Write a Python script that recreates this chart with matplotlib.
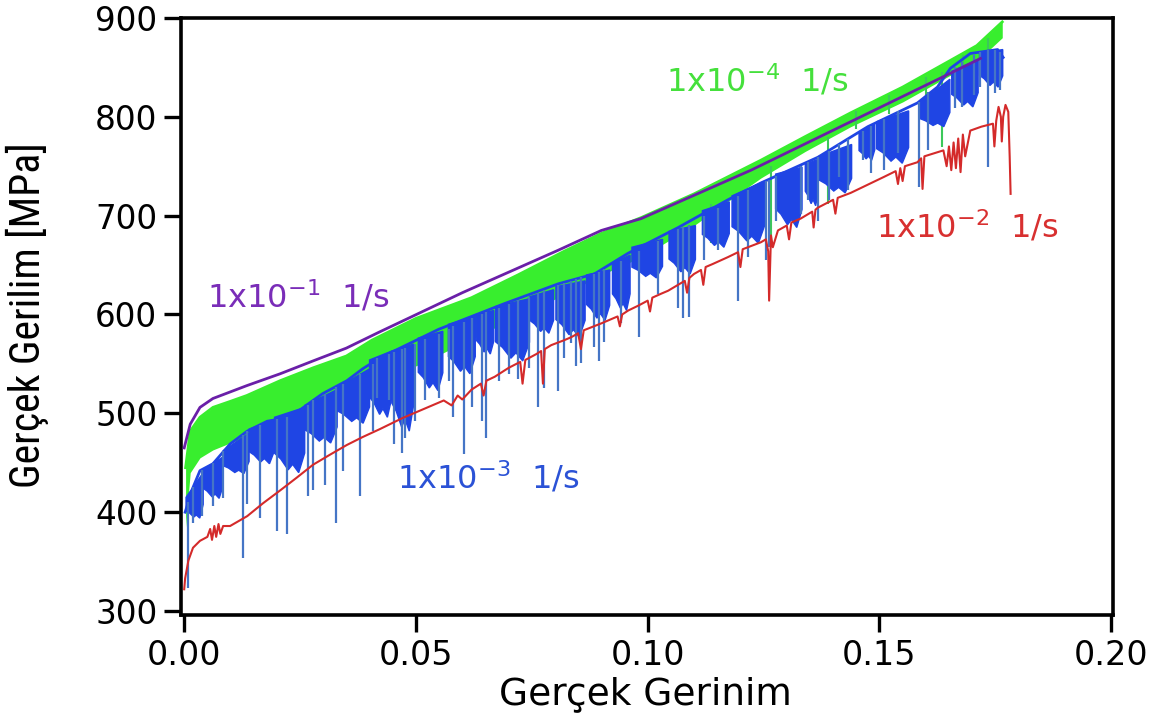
import matplotlib
matplotlib.use("Agg")
import matplotlib.pyplot as plt
from matplotlib import font_manager

# --- Data ---
# 1x10^-1 1/s  (smooth)
purple_strain = [0.0, 0.0013, 0.0034, 0.0062, 0.0135, 0.0207, 0.0278, 0.035, 0.042, 0.06,
                 0.0807, 0.0900, 0.0986, 0.1223, 0.1653, 0.1718]
purple_stress = [465, 489, 506, 515, 528, 540, 553, 566, 582, 622,
                 665, 685, 697, 746, 844, 859]

# 1x10^-4 1/s  (dense noise band: upper / lower edge)
green_strain = [0.0003, 0.0013, 0.0034, 0.0062, 0.0099, 0.0135, 0.0207, 0.0278, 0.035, 0.0405,
                0.050, 0.062, 0.072, 0.082, 0.090, 0.0986, 0.1100, 0.1244, 0.1340, 0.1438,
                0.1550, 0.1653, 0.1710, 0.1765]
green_top = [445, 482, 496, 506, 512, 518, 533, 546, 558, 574,
             596, 617, 640, 664, 682, 698, 722, 756, 780, 804,
             830, 857, 872, 896]
green_bot = [385, 440, 455, 463, 470, 476, 488, 500, 512, 525,
             548, 575, 598, 620, 640, 658, 690, 738, 765, 790,
             815, 842, 856, 880]
green_spike_strain = [0.1137, 0.1266, 0.1389, 0.1450, 0.1520, 0.1600, 0.1636, 0.1680, 0.1735]
green_spike_low = [672, 668, 712, 788, 803, 820, 769, 848, 860]
green_spike_high = [712, 750, 780, 806, 822, 840, 845, 862, 880]

# 1x10^-3 1/s  (serrated: top trace, dense serration blocks, deep drops)
blue_top_strain = [0.0002, 0.0019, 0.0034, 0.0062, 0.0099, 0.0136, 0.0179, 0.0228, 0.0278, 0.0299,
                   0.0351, 0.0385, 0.0422, 0.0549, 0.0691, 0.0807, 0.0885, 0.0958, 0.1066, 0.1173,
                   0.1244, 0.1367, 0.1475, 0.1582, 0.1625, 0.1653, 0.1696, 0.1755, 0.1767]
blue_top_stress = [400, 425, 442, 449, 469, 482, 492, 496, 513, 520,
                   533, 545, 556, 585, 611, 631, 641, 662, 688, 716,
                   733, 759, 790, 814, 830, 849, 864, 868, 860]

blue_block_x0 = [0.0004, 0.0041, 0.0084, 0.0140, 0.0195, 0.0260, 0.0330, 0.0400, 0.0448, 0.0505,
                 0.0570, 0.0630, 0.0672, 0.0746, 0.0802, 0.0868, 0.0924, 0.0966, 0.1046, 0.1118,
                 0.1182, 0.1276, 0.1340, 0.1370, 0.1456, 0.1494, 0.1586, 0.1656, 0.1716]
blue_block_x1 = [0.0041, 0.0084, 0.0140, 0.0195, 0.0260, 0.0330, 0.0400, 0.0448, 0.0495, 0.0558,
                 0.0628, 0.0668, 0.0745, 0.0797, 0.0865, 0.0918, 0.0962, 0.1032, 0.1103, 0.1176,
                 0.1253, 0.1333, 0.1368, 0.1440, 0.1490, 0.1563, 0.1652, 0.1713, 0.1766]
blue_block_top0 = [415, 443, 462, 484, 496, 508, 526, 554, 563, 576,
                   590, 600, 608, 618, 628, 640, 652, 668, 684, 705,
                   720, 742, 752, 760, 784, 795, 814, 846, 864]
blue_block_top1 = [440, 456, 480, 494, 506, 524, 545, 563, 570, 583,
                   598, 604, 616, 625, 634, 645, 660, 676, 690, 714,
                   735, 749, 757, 772, 792, 806, 838, 858, 868]
blue_block_bot = [394, 414, 439, 449, 440, 470, 490, 496, 482, 523,
                  540, 560, 553, 581, 577, 594, 604, 637, 641, 668,
                  672, 688, 710, 723, 756, 753, 790, 810, 830]

blue_spike_strain = [0.0009, 0.0019, 0.0039, 0.0062, 0.0084, 0.0127, 0.0136, 0.0164, 0.0200, 0.0222,
                     0.0267, 0.0278, 0.0304, 0.0327, 0.0342, 0.0379, 0.0407, 0.0416, 0.0441, 0.0452,
                     0.0469, 0.0476, 0.0497, 0.0519, 0.0549, 0.0571, 0.0581, 0.0603, 0.0620, 0.0642,
                     0.0652, 0.0680, 0.0700, 0.0721, 0.0745, 0.0764, 0.0777, 0.0807, 0.0820, 0.0835,
                     0.0846, 0.0857, 0.0885, 0.0896, 0.0906, 0.0943, 0.0982, 0.1023, 0.1066, 0.1076,
                     0.1089, 0.1122, 0.1152, 0.1195, 0.1216, 0.1255, 0.1262, 0.1277, 0.1330, 0.1346,
                     0.1367, 0.1391, 0.1412, 0.1432, 0.1464, 0.1481, 0.1509, 0.1539, 0.1585, 0.1604,
                     0.1664, 0.1679, 0.1703, 0.1718, 0.1735, 0.1750, 0.1761]
blue_spike_low = [323, 389, 396, 406, 414, 354, 408, 394, 381, 378,
                  416, 422, 427, 389, 442, 416, 482, 516, 513, 469,
                  460, 475, 492, 513, 516, 533, 496, 459, 506, 492,
                  475, 533, 540, 535, 546, 506, 526, 523, 556, 571,
                  548, 551, 567, 553, 572, 591, 577, 621, 607, 596,
                  597, 655, 665, 614, 658, 655, 668, 695, 702, 716,
                  695, 716, 739, 726, 756, 743, 746, 763, 729, 766,
                  809, 810, 822, 830, 749, 824, 827]
blue_spike_high = [410, 425, 443, 450, 462, 478, 482, 488, 494, 496,
                   508, 513, 520, 527, 530, 540, 550, 556, 560, 562,
                   565, 566, 570, 575, 580, 585, 588, 592, 596, 600,
                   602, 607, 611, 615, 618, 622, 625, 630, 632, 634,
                   636, 638, 641, 643, 646, 654, 664, 674, 686, 688,
                   691, 700, 708, 720, 726, 735, 736, 740, 750, 754,
                   759, 765, 772, 778, 786, 791, 798, 806, 815, 825,
                   850, 855, 862, 866, 868, 868, 866]

# 1x10^-2 1/s  (small serrations)
red_strain = [0.0000, 0.0002, 0.0009, 0.0019, 0.0034, 0.0050, 0.0056, 0.0060, 0.0065, 0.0069,
              0.0074, 0.0078, 0.0084, 0.0099, 0.0136, 0.0170, 0.0207, 0.0243, 0.0278, 0.0314,
              0.0351, 0.0385, 0.0422, 0.0470, 0.0520, 0.0560, 0.0577, 0.0590, 0.0600, 0.0620,
              0.0640, 0.0646, 0.0652, 0.0670, 0.0700, 0.0725, 0.0730, 0.0736, 0.0760, 0.0770,
              0.0774, 0.0778, 0.0792, 0.0820, 0.0835, 0.0850, 0.0856, 0.0862, 0.0900, 0.0935,
              0.0940, 0.0945, 0.0958, 0.0980, 0.1000, 0.1005, 0.1010, 0.1029, 0.1044, 0.1080,
              0.1085, 0.1090, 0.1100, 0.1115, 0.1120, 0.1125, 0.1140, 0.1173, 0.1195, 0.1200,
              0.1205, 0.1244, 0.1255, 0.1260, 0.1262, 0.1266, 0.1270, 0.1281, 0.1300, 0.1305,
              0.1310, 0.1330, 0.1355, 0.1358, 0.1362, 0.1367, 0.1400, 0.1405, 0.1410, 0.1438,
              0.1509, 0.1535, 0.1540, 0.1545, 0.1550, 0.1555, 0.1582, 0.1590, 0.1593, 0.1597,
              0.1638, 0.1645, 0.1650, 0.1655, 0.1660, 0.1665, 0.1670, 0.1675, 0.1680, 0.1685,
              0.1696, 0.1720, 0.1745, 0.1748, 0.1752, 0.1757, 0.1762, 0.1764, 0.1767, 0.1772,
              0.1778, 0.1781, 0.1783]
red_stress = [322, 333, 351, 364, 371, 375, 383, 372, 386, 375,
              388, 378, 386, 386, 396, 409, 422, 435, 448, 458,
              468, 476, 484, 495, 505, 513, 508, 518, 514, 524,
              530, 518, 533, 537, 546, 552, 530, 554, 560, 563,
              530, 565, 569, 574, 577, 581, 565, 584, 591, 598,
              588, 600, 604, 609, 614, 603, 617, 621, 624, 634,
              622, 637, 641, 645, 630, 648, 651, 658, 663, 648,
              666, 673, 676, 664, 614, 680, 668, 685, 690, 676,
              693, 697, 704, 688, 706, 708, 716, 702, 718, 723,
              739, 745, 732, 748, 735, 750, 754, 758, 727, 760,
              766, 750, 770, 746, 774, 748, 778, 744, 782, 760,
              786, 790, 793, 770, 796, 810, 800, 775, 800, 812,
              805, 760, 722]

x_ticks = [0.00, 0.05, 0.10, 0.15, 0.20]
y_ticks = [300, 400, 500, 600, 700, 800, 900]

# --- Fonts ---
def pick_font(names):
    for n in names:
        try:
            font_manager.findfont(font_manager.FontProperties(family=n), fallback_to_default=False)
            return n
        except ValueError:
            pass
    return "DejaVu Sans"

NARROW = pick_font(["Liberation Sans Narrow", "Roboto Condensed", "Liberation Sans"])
WIDE = "DejaVu Sans"

# --- Plot ---
fig = plt.figure(figsize=(11.57, 7.17), dpi=100)
ax = fig.add_axes([0.1564, 0.1423, 0.8056, 0.8327])

# green band
ax.fill_between(green_strain, green_bot, green_top, color="#38ee2e", lw=0, zorder=2)
ax.plot(green_strain, green_top, color="#38ee2e", lw=2, zorder=2)
ax.vlines(green_spike_strain, green_spike_low, green_spike_high, color="#3cc85a", lw=1.5, zorder=2)

# blue serration blocks (wide at the top, ragged at the bottom)
for x0, x1, t0, t1, b in zip(blue_block_x0, blue_block_x1, blue_block_top0,
                             blue_block_top1, blue_block_bot):
    w = x1 - x0
    xs = [x0, x1, x1, x0 + 0.8 * w, x0 + 0.6 * w, x0 + 0.45 * w, x0 + 0.2 * w, x0]
    ys = [t0, t1, b + 0.3 * (t1 - b), b, b + 0.15 * (t0 - b), b + 0.05 * (t0 - b),
          b + 0.25 * (t0 - b), t0 - 0.65 * (t0 - b)]
    ax.fill(xs, ys, color="#1f45e4", lw=1.0, zorder=3)
ax.plot(blue_top_strain, blue_top_stress, color="#1f45e4", lw=2, zorder=3)
ax.vlines(blue_spike_strain, blue_spike_low, blue_spike_high, color="#4575c6", lw=1.6, zorder=3)

# red and purple curves
ax.plot(red_strain, red_stress, color="#d42a2a", lw=1.5, zorder=4)
ax.plot(purple_strain, purple_stress, color="#6a1fa8", lw=2, zorder=5)

# curve labels
lab_kw = dict(fontsize=23, family=WIDE, zorder=6)
ax.text(0.104, 826, r"1x10$^{-4}$  1/s", color="#45e03c", **lab_kw)
ax.text(0.0049, 607, r"1x10$^{-1}$  1/s", color="#7a2db8", **lab_kw)
ax.text(0.0459, 424, r"1x10$^{-3}$  1/s", color="#2b52d6", **lab_kw)
ax.text(0.1492, 678, r"1x10$^{-2}$  1/s", color="#d83030", **lab_kw)

# axes
ax.set_xlim(-0.0007, 0.2004)
ax.set_ylim(296, 900)
ax.set_xticks(x_ticks)
ax.set_xticklabels([f"{v:.2f}" for v in x_ticks], family=WIDE, fontsize=24)
ax.set_yticks(y_ticks)
ax.set_yticklabels([str(v) for v in y_ticks], family=WIDE, fontsize=23.5)
ax.tick_params(direction="out", length=12, width=2.4, pad=5, color="black")
for s in ax.spines.values():
    s.set_linewidth(2.6)

ax.set_xlabel("Gerçek Gerinim", family=WIDE, fontsize=27)
ax.xaxis.set_label_coords(0.498, -0.102)
ax.set_ylabel("Gerçek Gerilim [MPa]", family=NARROW, fontsize=30)
ax.yaxis.set_label_coords(-0.142, 0.502)

fig.savefig("out.png", dpi=100)
